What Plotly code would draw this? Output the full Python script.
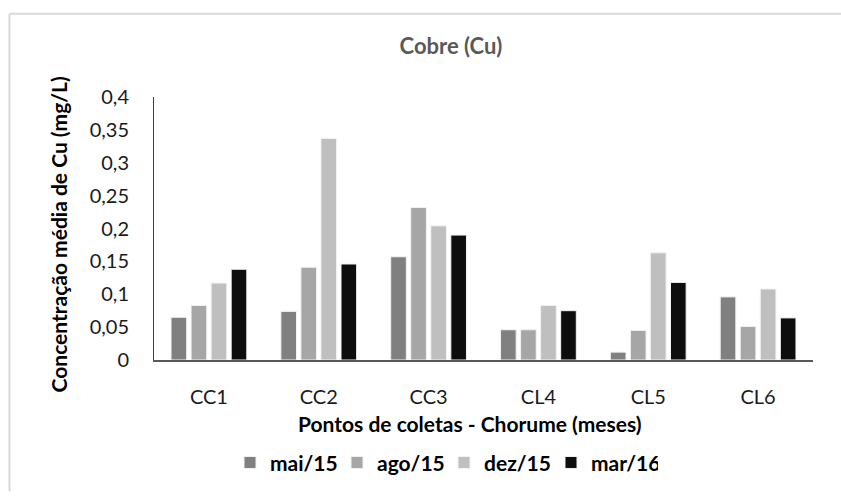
import plotly.graph_objects as go

# Mean copper concentration per sampling point and campaign
pontos = ["CC1", "CC2", "CC3", "CL4", "CL5", "CL6"]
mai_15 = [0.065, 0.074, 0.157, 0.046, 0.012, 0.096]
ago_15 = [0.083, 0.141, 0.232, 0.046, 0.045, 0.051]
dez_15 = [0.117, 0.337, 0.204, 0.083, 0.163, 0.108]
mar_16 = [0.138, 0.146, 0.190, 0.075, 0.118, 0.064]

campanhas = ["mai/15", "ago/15", "dez/15", "mar/16"]
cores = ["#808080", "#a6a6a6", "#bfbfbf", "#0d0d0d"]
series = [mai_15, ago_15, dez_15, mar_16]

y_ticks = [0, 0.05, 0.1, 0.15, 0.2, 0.25, 0.3, 0.35, 0.4]
y_tick_text = ["0", "0,05", "0,1", "0,15", "0,2", "0,25", "0,3", "0,35", "0,4"]

FONT = "Lato"
W, H = 841, 496
L, R, T, B = 154, 28, 97, 133
pw, ph = W - L - R, H - T - B


def px_x(x):
    return (x - L) / pw


def px_y(y):
    return (H - B - y) / ph


fig = go.Figure()
for nome, cor, valores in zip(campanhas, cores, series):
    fig.add_trace(go.Bar(
        x=pontos, y=valores, name=nome,
        marker=dict(color=cor, line=dict(color="#f2f2f2", width=1)),
    ))

fig.update_layout(
    width=W, height=H,
    margin=dict(l=L, r=R, t=T, b=B),
    paper_bgcolor="white", plot_bgcolor="white",
    barmode="group", bargap=0.27, bargroupgap=0.22,
    font=dict(family=FONT, color="#1a1a1a", size=20),
    title=dict(
        text="<b>Cobre (Cu)</b>", x=451 / W, xanchor="center",
        y=1 - 46 / H, yanchor="middle",
        font=dict(family=FONT, size=22, color="#595959"),
    ),
    xaxis=dict(
        showline=True, linecolor="#595959", linewidth=1.5,
        showgrid=False, ticks="", ticklabelstandoff=18,
        tickfont=dict(size=20, color="#1a1a1a"),
    ),
    yaxis=dict(
        range=[0, 0.4], tickvals=y_ticks, ticktext=y_tick_text,
        showline=True, linecolor="#404040", linewidth=1,
        showgrid=False, zeroline=False, ticks="", ticklabelstandoff=20,
        tickfont=dict(size=20, color="#1a1a1a"),
    ),
    legend=dict(
        orientation="h", x=px_x(444), xanchor="center",
        y=px_y(467), yanchor="middle",
        font=dict(family=FONT, size=21, color="#000000", weight="bold"),
        entrywidth=62, entrywidthmode="pixels",
        bgcolor="rgba(0,0,0,0)",
    ),
    annotations=[
        dict(
            text="<b>Concentração média de Cu (mg/L)</b>",
            xref="paper", yref="paper", x=px_x(58), y=px_y(236),
            xanchor="center", yanchor="middle", textangle=-90,
            showarrow=False, font=dict(family=FONT, size=21, color="#000000"),
        ),
        dict(
            text="<b>Pontos de coletas - Chorume (meses)</b>",
            xref="paper", yref="paper", x=px_x(470), y=px_y(427),
            xanchor="center", yanchor="middle",
            showarrow=False, font=dict(family=FONT, size=21, color="#000000"),
        ),
    ],
    shapes=[
        # light chart-area frame along the top and left edges
        dict(
            type="line", xref="paper", yref="paper",
            x0=px_x(9.5), x1=px_x(841), y0=px_y(12.7), y1=px_y(12.7),
            line=dict(color="#d9d9d9", width=2),
        ),
        dict(
            type="line", xref="paper", yref="paper",
            x0=px_x(9.5), x1=px_x(9.5), y0=px_y(12.7), y1=px_y(496),
            line=dict(color="#d9d9d9", width=2),
        ),
    ],
)

fig.write_html("out.html")
